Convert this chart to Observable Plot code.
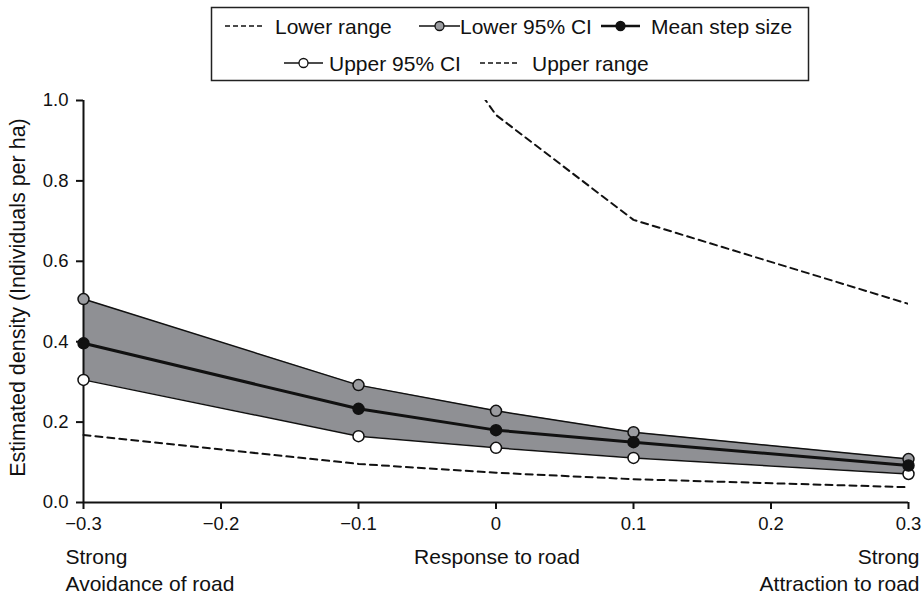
<!DOCTYPE html>
<html>
<head>
<meta charset="utf-8">
<script src="https://cdn.jsdelivr.net/npm/d3@7"></script>
<script src="https://cdn.jsdelivr.net/npm/@observablehq/plot@0.6"></script>
<style>
  body { margin: 0; background: #fff; font-family: "Liberation Sans", Arial, sans-serif; }
  #wrap { width: 922px; height: 594px; overflow: hidden; }
  #legend { display: block; }
  #chart svg { display: block; }
</style>
</head>
<body>
<div id="wrap">
  <div id="legend"></div>
  <div id="chart"></div>
</div>
<script>
// ---- data ----
const responses   = [-0.3, -0.1, 0, 0.1, 0.3];
const lowerCI     = [0.506, 0.292, 0.228, 0.175, 0.108];
const meanStep    = [0.396, 0.233, 0.180, 0.150, 0.092];
const upperCI     = [0.305, 0.165, 0.136, 0.111, 0.071];
const lowerRange  = [0.168, 0.096, 0.074, 0.058, 0.038];
const upperRangeX = [-0.1, 0, 0.1, 0.3];
const upperRange  = [1.45, 0.964, 0.703, 0.494];

const xTicks = [-0.3, -0.2, -0.1, 0, 0.1, 0.2, 0.3];
const yTicks = [0, 0.2, 0.4, 0.6, 0.8, 1.0];
const xDomain = [-0.3, 0.3];
const yDomain = [0, 1];

const yLabel = "Estimated density (Individuals per ha)";
const bottomLeft = ["Strong", "Avoidance of road"];
const bottomMid = "Response to road";
const bottomRight = ["Strong", "Attraction to road"];

const legendItems = [
  {label: "Lower range",    kind: "dash"},
  {label: "Lower 95% CI",   kind: "gray"},
  {label: "Mean step size", kind: "black"},
  {label: "Upper 95% CI",   kind: "white"},
  {label: "Upper range",    kind: "dash"}
];

const bandFill = "#8f9094";
const grayDot = "#9b9ca0";

// ---- legend (SVG above the plot) ----
const legendLayout = [
  {sx0: 225, sx1: 265, tx: 275, y: 26},
  {sx0: 419, sx1: 460, tx: 460, y: 26},
  {sx0: 601, sx1: 640, tx: 651, y: 26},
  {sx0: 284, sx1: 323, tx: 329, y: 63},
  {sx0: 480, sx1: 519, tx: 532, y: 63}
];
const lsvg = d3.select("#legend").append("svg")
  .attr("width", 922).attr("height", 88).style("display", "block");
lsvg.append("rect").attr("x", 211.5).attr("y", 7.5).attr("width", 597).attr("height", 73)
  .attr("fill", "none").attr("stroke", "#222").attr("stroke-width", 1.5);
legendItems.forEach((it, i) => {
  const L = legendLayout[i];
  const g = lsvg.append("g");
  if (it.kind === "dash") {
    g.append("line").attr("x1", L.sx0).attr("x2", L.sx1).attr("y1", L.y).attr("y2", L.y)
      .attr("stroke", "#111").attr("stroke-width", 1.6).attr("stroke-dasharray", "5,3");
  } else {
    g.append("line").attr("x1", L.sx0).attr("x2", L.sx1).attr("y1", L.y).attr("y2", L.y)
      .attr("stroke", "#111").attr("stroke-width", it.kind === "black" ? 2.6 : 1.5);
    g.append("circle").attr("cx", (L.sx0 + L.sx1) / 2).attr("cy", L.y).attr("r", 4.5)
      .attr("fill", it.kind === "gray" ? grayDot : it.kind === "black" ? "#111" : "#fff")
      .attr("stroke", "#111").attr("stroke-width", 1.3);
  }
  g.append("text").attr("x", L.tx).attr("y", L.y + 7.5)
    .attr("font-family", "Liberation Sans, Arial, sans-serif").attr("font-size", 21)
    .attr("fill", "#111").text(it.label);
});

// ---- plot ----
const rows = responses.map((x, i) => ({
  x, lowerCI: lowerCI[i], mean: meanStep[i], upperCI: upperCI[i], lowerRange: lowerRange[i]
}));
const upperRows = upperRangeX.map((x, i) => ({x, y: upperRange[i]}));

const fmt1 = d3.format(".1f");
const xFmt = d => d === 0 ? "0" : fmt1(d);

const textOpts = {text: d => d, fontSize: 21, fill: "#111", lineAnchor: "top"};

const chart = Plot.plot({
  width: 922,
  height: 506,
  marginTop: 12,
  marginBottom: 92,
  marginLeft: 83,
  marginRight: 14,
  style: {fontFamily: "Liberation Sans, Arial, sans-serif", fontSize: "18.5px", color: "#111", background: "white", overflow: "visible"},
  x: {domain: xDomain},
  y: {domain: yDomain},
  marks: [
    Plot.areaY(rows, {x: "x", y1: "upperCI", y2: "lowerCI", fill: bandFill}),
    Plot.line(rows, {x: "x", y: "lowerRange", stroke: "#111", strokeWidth: 2, strokeDasharray: "7,5"}),
    Plot.line(upperRows, {x: "x", y: "y", stroke: "#111", strokeWidth: 2, strokeDasharray: "7,5", clip: true}),
    Plot.line(rows, {x: "x", y: "lowerCI", stroke: "#111", strokeWidth: 1.5}),
    Plot.line(rows, {x: "x", y: "upperCI", stroke: "#111", strokeWidth: 1.5}),
    Plot.line(rows, {x: "x", y: "mean", stroke: "#111", strokeWidth: 3}),
    Plot.ruleX([xDomain[0]], {y1: yDomain[0], y2: yDomain[1], stroke: "#111", strokeWidth: 2}),
    Plot.ruleY([yDomain[0]], {x1: xDomain[0], x2: xDomain[1], stroke: "#111", strokeWidth: 2}),
    Plot.dot(rows, {x: "x", y: "lowerCI", r: 5.5, fill: grayDot, stroke: "#111", strokeWidth: 1.5}),
    Plot.dot(rows, {x: "x", y: "upperCI", r: 5.5, fill: "#fff", stroke: "#111", strokeWidth: 1.5}),
    Plot.dot(rows, {x: "x", y: "mean", r: 5.5, fill: "#111", stroke: "#111", strokeWidth: 1.5}),
    Plot.axisX({ticks: xTicks, tickFormat: xFmt, tickSize: 7, tickPadding: 7, strokeWidth: 2, stroke: "#111", fontSize: 18.5, label: null}),
    Plot.axisY({ticks: yTicks, tickFormat: fmt1, tickSize: 7, tickPadding: 8, strokeWidth: 2, stroke: "#111", fontSize: 18.5, label: null}),
    Plot.text([yLabel], {text: d => d, frameAnchor: "left", rotate: -90, dx: -65, dy: -4, fontSize: 21.5, textAnchor: "middle", lineAnchor: "middle", fill: "#111"}),
    Plot.text([bottomLeft[0]], {...textOpts, frameAnchor: "bottom-left", textAnchor: "start", dx: -18, dy: 47}),
    Plot.text([bottomLeft[1]], {...textOpts, frameAnchor: "bottom-left", textAnchor: "start", dx: -18, dy: 74}),
    Plot.text([bottomMid], {...textOpts, frameAnchor: "bottom", textAnchor: "middle", dx: 1, dy: 47}),
    Plot.text([bottomRight[0]], {...textOpts, frameAnchor: "bottom-right", textAnchor: "end", dx: 11, dy: 47}),
    Plot.text([bottomRight[1]], {...textOpts, frameAnchor: "bottom-right", textAnchor: "end", dx: 11, dy: 74})
  ]
});
document.getElementById("chart").appendChild(chart);
</script>
</body>
</html>
